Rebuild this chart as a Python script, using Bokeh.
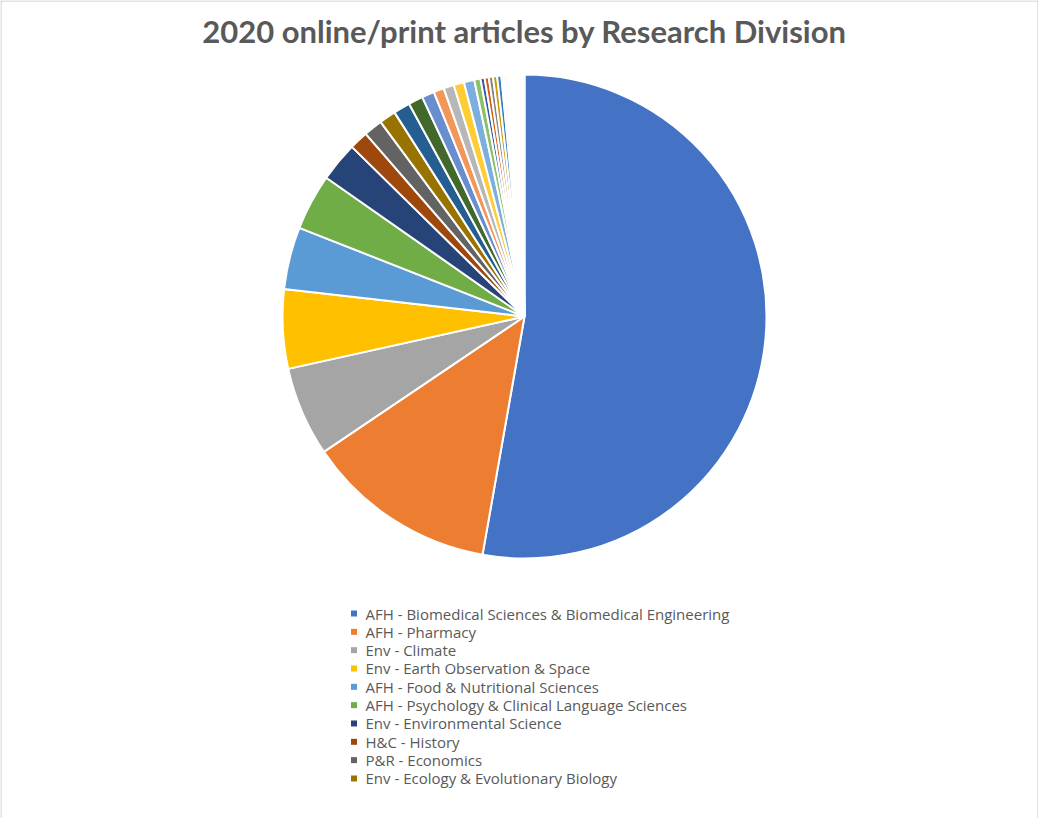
import math
from bokeh.plotting import figure
from bokeh.models import Range1d, Label, Span, ColumnDataSource
from bokeh.core.properties import value
from bokeh.embed import file_html
from bokeh.resources import INLINE

title_text = "2020 online/print articles by Research Division"

divisions = [
    "AFH - Biomedical Sciences & Biomedical Engineering",
    "AFH - Pharmacy",
    "Env - Climate",
    "Env - Earth Observation & Space",
    "AFH - Food & Nutritional Sciences",
    "AFH - Psychology & Clinical Language Sciences",
    "Env - Environmental Science",
    "H&C - History",
    "P&R - Economics",
    "Env - Ecology & Evolutionary Biology",
] + ["Division %d" % i for i in range(11, 35)]

articles = [380, 92, 43, 38, 30, 27, 19, 9, 9, 8,
            8, 7, 6, 5, 5, 5, 5, 3,
            2, 2, 2, 2, 2, 1, 1, 1, 1, 1, 1, 1, 1, 1, 1, 1]

colors = [
    "#4472C4", "#ED7D31", "#A5A5A5", "#FFC000", "#5B9BD5", "#70AD47",
    "#264478", "#9E480E", "#636363", "#997300", "#255E91", "#43682B",
    "#698ED0", "#F1975A", "#B7B7B7", "#FFCD33", "#7CAFDD", "#8CC168",
    "#335AA1", "#D26012", "#848484", "#CC9A00", "#327DC2", "#5A8A39",
    "#8FAADC", "#F4B183", "#C9C9C9", "#FFD966", "#9DC3E6", "#A9D18E",
    "#DAE3F3", "#FBE5D6", "#EDEDED", "#FFF2CC",
]

legend_count = 10

W, H = 1038, 818
PAGE_H = 834  # data y = PAGE_H - page y

total = float(sum(articles))
starts, ends = [], []
acc = 0.0
for v in articles:
    a0 = acc / total * 2 * math.pi
    acc += v
    a1 = acc / total * 2 * math.pi
    starts.append(math.pi / 2 - a0)
    ends.append(math.pi / 2 - a1)

src = ColumnDataSource(dict(division=divisions, articles=articles, color=colors,
                            start=starts, end=ends))

p = figure(width=W, height=H, output_backend="svg", toolbar_location=None,
           x_range=Range1d(8, 8 + W), y_range=Range1d(PAGE_H - 8 - H, PAGE_H - 8),
           min_border=0, outline_line_color=None, background_fill_color="white")
p.axis.visible = False
p.xgrid.visible = False
p.ygrid.visible = False

cx, cy, r = 532, PAGE_H - 324, 242
p.wedge(x=cx, y=cy, radius=r, start_angle="start", end_angle="end",
        direction="clock", fill_color="color", line_color="white",
        line_width=2, source=src)

# legend (first entries only, as in the original)
row_top, row_step = 621.0, 18.33
leg_y = [PAGE_H - (row_top + row_step * i) for i in range(legend_count)]
leg_src = ColumnDataSource(dict(
    y=leg_y, label=divisions[:legend_count], color=colors[:legend_count],
    sx=[361.5] * legend_count, tx=[373] * legend_count))
p.scatter(x="sx", y="y", marker="square", size=6, fill_color="color",
          line_color=None, source=leg_src)
p.text(x="tx", y="y", text="label", source=leg_src,
       text_font=value("Open Sans"), text_font_size="15px",
       text_color="#595959", text_baseline="middle", text_align="left")

title = Label(x=532, y=PAGE_H - 38, text=title_text, text_align="center",
              text_baseline="middle", text_font="Lato", text_font_style="bold",
              text_font_size="31px", text_color="#595959")
p.add_layout(title)

for loc in [8.5, 8 + W - 0.5]:
    p.add_layout(Span(location=loc, dimension="height", line_color="#c8c8c8", line_width=1))
p.add_layout(Span(location=PAGE_H - 8.5, dimension="width", line_color="#c8c8c8", line_width=1))

open("out.html", "w").write(file_html(p, INLINE))
